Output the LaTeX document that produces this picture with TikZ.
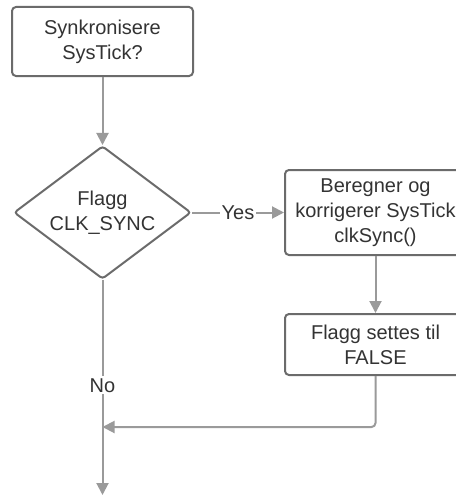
\documentclass[tikz,border=0pt]{standalone}
\usepackage{fontspec}
\setmainfont{Liberation Sans}
\usetikzlibrary{positioning,arrows.meta,shapes.geometric}
\definecolor{linegray}{HTML}{9A9A9A}
\definecolor{boxgray}{HTML}{6B6B6B}
\definecolor{textgray}{HTML}{333333}

\begin{document}
\begin{tikzpicture}[
        x=1pt, y=-1pt,
        font=\fontsize{20}{25}\selectfont, text=textgray,
        box/.style={draw=boxgray, line width=2pt, rounded corners=4pt, align=center, minimum width=181pt, minimum height=69pt, inner sep=0pt},
        decision/.style={diamond, aspect=1.33, draw=boxgray, line width=2pt, rounded corners=3pt, align=center, minimum width=177pt, minimum height=133pt, inner sep=0pt},
        line/.style={-{Triangle[length=12pt,width=12pt]}, draw=linegray, line width=2pt},
        lbl/.style={fill=white, inner sep=2pt}
    ]
        \useasboundingbox (0,0) rectangle (455,495);

        \node[box] (sync) at (102.5,41.5) {Synkronisere\\SysTick?};
        \node[decision, below=68pt of sync] (flag) {Flagg\\CLK\_SYNC};
        \node[box, right=92pt of flag, minimum height=85pt] (calc) {Beregner og\\korrigerer SysTick\\clkSync()};
        \node[box, below=57pt of calc, minimum height=61pt] (reset) {Flagg settes til\\FALSE};

        \coordinate (join) at (102.5,427);
        \coordinate (out) at (102.5,495);

        \draw[line] (sync) -- (flag);
        \draw[line] (flag) -- node[lbl] {Yes} (calc);
        \draw[line] (calc) -- (reset);
        \draw[line, rounded corners=4pt] (reset.south) |- (join);
        \draw[line] (flag.south) -- node[lbl, pos=0.49] {No} (out);
    \end{tikzpicture}
\end{document}
